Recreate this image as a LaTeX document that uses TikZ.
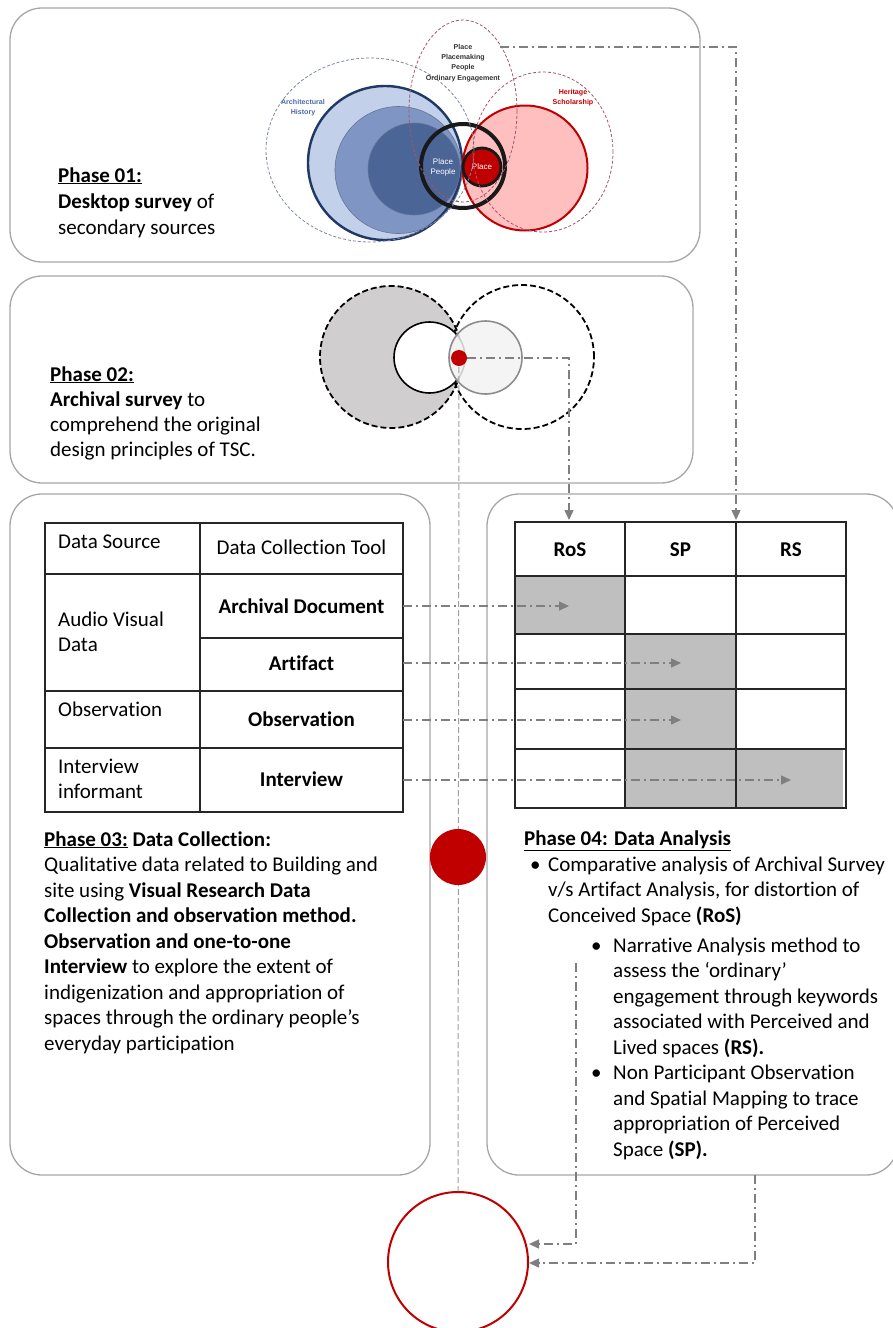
\documentclass[tikz,border=0pt]{standalone}
\usepackage{fontspec}
\setmainfont{Carlito}[Ligatures=NoCommon]
\newfontfamily\vennfont{Liberation Sans}
\usetikzlibrary{arrows.meta}
\definecolor{panelgray}{HTML}{A6A6A6}
\definecolor{flowgray}{HTML}{7F7F7F}
\definecolor{guidegray}{HTML}{A0A0A0}
\definecolor{darkred}{HTML}{C00000}
\definecolor{heritagepink}{HTML}{FFBFBF}
\definecolor{blueA}{HTML}{C3D0EA}
\definecolor{blueB}{HTML}{7F95C4}
\definecolor{blueC}{HTML}{4B6597}
\definecolor{navy}{HTML}{203864}
\definecolor{cellgray}{HTML}{BFBFBF}
\definecolor{circlegray}{HTML}{D0CECE}
\definecolor{lightcircle}{HTML}{F2F2F2}
\definecolor{histblue}{HTML}{4A6AA8}
\definecolor{ellipsered}{HTML}{A4566A}
\definecolor{ellipseblue}{HTML}{7A879E}
\begin{document}
\begin{tikzpicture}[x=1pt,y=-1pt,
  panel/.style={draw=panelgray, line width=1.3pt, rounded corners=32pt},
  txt/.style={anchor=base west, inner sep=0pt, font=\fontsize{21}{25.5}\selectfont},
  ctxt/.style={anchor=base, inner sep=0pt, font=\fontsize{21}{25.5}\selectfont},
  venntxt/.style={inner sep=0pt, align=center, font=\vennfont\fontsize{7.1}{10.3}\selectfont\bfseries},
  flow/.style={draw=flowgray, line width=1.4pt, dash pattern=on 9pt off 4pt on 2pt off 4pt,
    -{Triangle[length=10pt,width=9pt]}},
  guide/.style={draw=guidegray, line width=1pt, dash pattern=on 6pt off 3pt},
  grid/.style={draw=black!85, line width=1.5pt}]
\useasboundingbox (0,0) rectangle (893,1328);
\clip (0,0) rectangle (893,1328);

% ---------- panels ----------
\draw[panel] (10,8) rectangle (700,262);
\draw[panel] (10,276) rectangle (693,483);
\draw[panel] (10,494) rectangle (430,1175);
\draw[panel] (487,494) rectangle (898,1175);

% ---------- Phase 01 : literature overlap ----------
\fill[blueA] (385,163) circle[radius=77pt];
\fill[blueB] (398.5,170) circle[radius=63.5pt];
\fill[blueC] (414,169) circle[radius=46pt];
\draw[navy, line width=2.4pt] (385,163) circle[radius=77pt];
\draw[navy!70, line width=0.6pt] (398.5,170) circle[radius=63.5pt];
\draw[navy!70, line width=0.6pt] (414,169) circle[radius=46pt];
\fill[heritagepink] (525,168) circle[radius=62.5pt];
\draw[darkred, line width=2pt] (525,168) circle[radius=62.5pt];
\draw[black!90, line width=4pt] (463,166) circle[radius=42pt];
\node[circle, fill=darkred, draw=black!90, line width=2.8pt, minimum size=38pt, inner sep=0pt,
  text=white, font=\vennfont\fontsize{8}{9}\selectfont] (placedot) at (482,167) {Place};
\node[venntxt, text=white, font=\vennfont\fontsize{8}{10}\selectfont] (placepeople) at (443,167) {Place\\People};
\draw[ellipseblue, line width=0.8pt, dash pattern=on 3pt off 2pt] (370,150) ellipse[x radius=104pt, y radius=92pt];
\draw[ellipsered, line width=0.8pt, dash pattern=on 3pt off 2pt] (463,111) ellipse[x radius=54pt, y radius=91pt];
\draw[ellipsered, line width=0.8pt, dash pattern=on 3pt off 2pt] (543,152) ellipse[x radius=70pt, y radius=80pt];
\node[venntxt, text=black!80] (engage) at (463,63) {Place\\Placemaking\\People\\Ordinary Engagement};
\node[venntxt, text=histblue] (archhist) at (303,108) {Architectural\\History};
\node[venntxt, text=darkred] (heritage) at (573,98) {Heritage\\Scholarship};
\coordinate (engageout) at (500,47);

\node[txt] (p1a) at (58,182) {\underline{\textbf{Phase 01:}}};
\node[txt] (p1b) at (58,208) {\textbf{Desktop survey} of};
\node[txt] (p1c) at (58,234) {secondary sources};

% ---------- Phase 02 : archival overlap ----------
\fill[circlegray] (391,357) circle[radius=71pt];
\draw[black, line width=1.8pt, dash pattern=on 6pt off 3pt] (391,357) circle[radius=71pt];
\draw[black, line width=1.8pt, dash pattern=on 6pt off 3pt] (522,357) circle[radius=72pt];
\draw[black, line width=1.6pt, fill=white] (429.5,357.5) circle[radius=35.5pt];
\draw[black!45, line width=1.6pt, fill=lightcircle, fill opacity=0.85] (485.5,357.5) circle[radius=36.5pt];

\node[txt] (p2a) at (50,381) {\underline{\textbf{Phase 02:}}};
\node[txt] (p2b) at (50,406) {\textbf{Archival survey} to};
\node[txt] (p2c) at (50,431) {comprehend the original};
\node[txt] (p2d) at (50,456) {design principles of TSC.};

% ---------- Phase 03 : data collection table ----------
\draw[grid] (45,523) rectangle (403,812);
\draw[grid] (200,523) -- (200,812);
\draw[grid] (45,574) -- (403,574);
\draw[grid] (200,638) -- (403,638);
\draw[grid] (45,691) -- (403,691);
\draw[grid] (45,748) -- (403,748);

\node[txt] (srchead) at (58,548) {Data Source};
\node[ctxt] (toolhead) at (301.5,554) {Data Collection Tool};
\node[txt] (avA) at (58,626) {Audio Visual};
\node[txt] (avB) at (58,651) {Data};
\node[ctxt] (archdoc) at (301.5,613) {\textbf{Archival Document}};
\node[ctxt] (artifact) at (301.5,670) {\textbf{Artifact}};
\node[txt] (obsrc) at (58,716) {Observation};
\node[ctxt] (obtool) at (301.5,726) {\textbf{Observation}};
\node[txt] (intA) at (58,773) {Interview};
\node[txt] (intB) at (58,798) {informant};
\node[ctxt] (inttool) at (301.5,786) {\textbf{Interview}};

\coordinate (r1) at (403,606);
\coordinate (r2) at (403,663);
\coordinate (r3) at (403,720);
\coordinate (r4) at (403,780);

\node[txt] (p3a) at (44,846) {\underline{\textbf{Phase 03:}} \textbf{Data Collection:}};
\node[txt] (p3b) at (44,871.5) {Qualitative data related to Building and};
\node[txt] (p3c) at (44,897) {site using \textbf{Visual Research Data}};
\node[txt] (p3d) at (44,922.5) {\textbf{Collection and observation method.}};
\node[txt] (p3e) at (44,948) {\textbf{Observation and one-to-one}};
\node[txt] (p3f) at (44,973.5) {\textbf{Interview} to explore the extent of};
\node[txt] (p3g) at (44,999) {indigenization and appropriation of};
\node[txt] (p3h) at (44,1024.5) {spaces through the ordinary people’s};
\node[txt] (p3i) at (44,1050) {everyday participation};

% ---------- Phase 04 : analysis matrix ----------
\fill[cellgray] (515,576) rectangle (625,634);
\fill[cellgray] (625,634) rectangle (736,808);
\fill[cellgray] (736,749) rectangle (843,808);
\draw[grid] (515,522) rectangle (846,808);
\draw[grid] (625,522) -- (625,808);
\draw[grid] (736,522) -- (736,808);
\draw[grid] (515,576) -- (846,576);
\draw[grid] (515,634) -- (846,634);
\draw[grid] (515,689) -- (846,689);
\draw[grid] (515,749) -- (846,749);
\node[ctxt] (ros) at (570,556) {\textbf{RoS}};
\node[ctxt] (sp) at (680.5,556) {\textbf{SP}};
\node[ctxt] (rs) at (791,556) {\textbf{RS}};

\coordinate (rosin) at (569,520);
\coordinate (rsin) at (736,520);
\coordinate (t1) at (569,606);
\coordinate (t2) at (681,663);
\coordinate (t3) at (681,720);
\coordinate (t4) at (791,780);

\node[txt] (p4a) at (524,845) {\underline{\textbf{Phase 04: Data Analysis}}};
\node[txt] (b1) at (530,871) {•};
\node[txt] (p4b) at (548,871) {Comparative analysis of Archival Survey};
\node[txt] (p4c) at (548,896.5) {v/s Artifact Analysis, for distortion of};
\node[txt] (p4d) at (548,922) {Conceived Space \textbf{(RoS)}};
\node[txt] (b2) at (591,952) {•};
\node[txt] (p4e) at (613,952) {Narrative Analysis method to};
\node[txt] (p4f) at (613,977.5) {assess the ‘ordinary’};
\node[txt] (p4g) at (613,1003) {engagement through keywords};
\node[txt] (p4h) at (613,1028.5) {associated with Perceived and};
\node[txt] (p4i) at (613,1054) {Lived spaces \textbf{(RS).}};
\node[txt] (b3) at (591,1079.5) {•};
\node[txt] (p4j) at (613,1079.5) {Non Participant Observation};
\node[txt] (p4k) at (613,1105) {and Spatial Mapping to trace};
\node[txt] (p4l) at (613,1130.5) {appropriation of Perceived};
\node[txt] (p4m) at (613,1156) {Space \textbf{(SP).}};

% ---------- synthesis circles and guide ----------
\node[circle, draw=darkred, line width=2pt, fill=white, minimum size=140pt, inner sep=0pt] (synth) at (458,1262) {};
\coordinate (archdot) at (459,358);
\draw[guide] (archdot) -- (synth.north);
\node[circle, fill=darkred, minimum size=56pt, inner sep=0pt] (middot) at (458,857) {};
\node[circle, fill=darkred, minimum size=16pt, inner sep=0pt] (reddot) at (459,358) {};

% ---------- connectors ----------
\draw[flow] (engageout) -| (rsin);
\draw[flow] (reddot.east) -| (rosin);
\draw[flow] (r1) -- (t1);
\draw[flow] (r2) -- (t2);
\draw[flow] (r3) -- (t3);
\draw[flow] (r4) -- (t4);
\coordinate (rsout) at (576,963);
\coordinate (spout) at (755,1175);
\draw[flow] (rsout) |- (synth.east |- 0,1244);
\draw[flow] (spout) |- (synth.east |- 0,1263);
\end{tikzpicture}
\end{document}
